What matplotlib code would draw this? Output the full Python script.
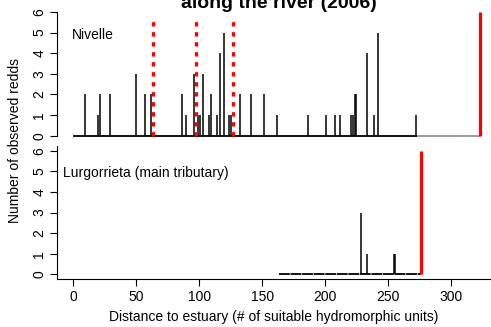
import numpy as np
import matplotlib
matplotlib.use("Agg")
import matplotlib.pyplot as plt

plt.rcParams['font.family'] = ['Liberation Sans', 'DejaVu Sans']

# Nivelle: redd counts per hydromorphic unit (distance to estuary)
nivelle_dist = [9.6, 19.4, 21.5, 29.5, 49.6, 56.8, 61.8, 86.2, 89.4, 95.5, 98.7, 100.3,
                102.7, 107.7, 109.6, 113.8, 116.5, 119.7, 123.6, 125.2, 132.4, 141.1,
                151.0, 161.6, 186.5, 200.3, 207.5, 212.0, 220.7, 222.0, 223.4, 224.5,
                233.4, 238.5, 241.7, 272.4]
nivelle_redds = [2, 1, 2, 2, 3, 2, 2, 2, 1, 3, 1, 1,
                 3, 1, 2, 1, 4, 5, 1, 1, 2, 2,
                 2, 1, 1, 1, 1, 1, 1, 1, 2, 2,
                 4, 1, 5, 1]
nivelle_surveyed = (0, 272.7)
nivelle_unsurveyed = (272.7, 322.8)
nivelle_limit = 322.8
barriers = [62.9, 97.1, 127.1]

# Lurgorrieta (main tributary)
lurg_dist = [228.7, 232.9, 254.6, 255.4]
lurg_redds = [3, 1, 1, 1]
lurg_surveyed = (163.1, 275.9)
lurg_limit = 275.9

xticks = [0, 50, 100, 150, 200, 250, 300]
yticks = [0, 1, 2, 3, 4, 5, 6]

fig = plt.figure(figsize=(4.91, 3.27), dpi=100)
ax1 = fig.add_axes([0.1167, 0.570, 0.8833, 0.4086])
ax2 = fig.add_axes([0.1167, 0.1459, 0.8833, 0.4081])

xlim = (-12.7, 331.6)
ylim = (-0.24, 6.24)
fs = 10

for ax in (ax1, ax2):
    ax.set_xlim(*xlim)
    ax.set_ylim(*ylim)
    ax.set_yticks(yticks)
    ax.set_yticklabels([str(t) for t in yticks], rotation=90, va='center', fontsize=fs)
    ax.tick_params(axis='y', length=5, width=0.8, pad=3)
    ax.spines['top'].set_visible(False)
    ax.spines['right'].set_visible(False)

# top panel: only a y axis from 0 to 6
ax1.spines['bottom'].set_visible(False)
ax1.spines['left'].set_bounds(0, 6)
ax1.set_xticks([])

ax1.plot(nivelle_surveyed, [0, 0], color='black', lw=1.3, solid_capstyle='butt')
ax1.plot(nivelle_unsurveyed, [0, 0], color='#808080', lw=1.1, solid_capstyle='butt')
ax1.vlines(nivelle_dist, 0, nivelle_redds, color='black', lw=1.1)
ax1.vlines(barriers, 0, 5.6, color='red', lw=2.4, linestyles=[(0, (1.3, 1.7))])
ax1.vlines([nivelle_limit], 0, 6, color='red', lw=2.3)
ax1.text(0.034, 0.79, 'Nivelle', transform=ax1.transAxes,
         fontsize=fs, va='center', ha='left')

# bottom panel
ax2.plot(lurg_surveyed, [0, 0], color='black', lw=1.3, ls=(0, (6, 0.4)))
ax2.vlines(lurg_dist, 0, lurg_redds, color='black', lw=1.1)
ax2.vlines([lurg_limit], 0, 6, color='red', lw=2.3)
ax2.set_xticks(xticks)
ax2.set_xticklabels([str(t) for t in xticks], fontsize=fs)
ax2.tick_params(axis='x', length=5, width=0.8, pad=3)
ax2.text(0.013, 0.80, 'Lurgorrieta (main tributary)', transform=ax2.transAxes,
         fontsize=fs, va='center', ha='left')
ax2.set_xlabel('Distance to estuary (# of suitable hydromorphic units)', fontsize=fs, labelpad=4)

fig.text(0.031, 0.570, 'Number of observed redds', rotation=90, ha='center', va='center',
         fontsize=fs)
fig.text(0.568, 1 - 8.5 / 327, 'along the river (2006)', ha='center', va='baseline',
         fontsize=14, fontweight='bold')

fig.savefig('out.png', dpi=100)
